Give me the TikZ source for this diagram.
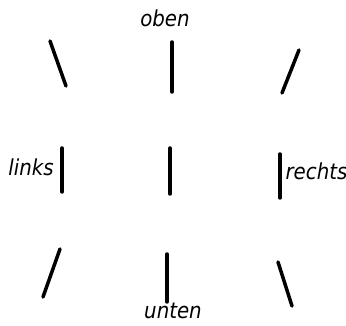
\documentclass[tikz,border=0pt]{standalone}
\usepackage{fontspec}
\newfontfamily\labelfont{DejaVu Sans Condensed}
\begin{document}
\begin{tikzpicture}[x=1pt,y=-1pt,line width=3.5pt,line cap=round]
  \tikzstyle{stroke}=[draw=black]
  \tikzstyle{dirlabel}=[font=\labelfont\itshape\fontsize{22}{22}\selectfont, inner sep=0pt, anchor=base]
  \useasboundingbox (0,0) rectangle (346,326);

  % strokes, row by row
  \draw[stroke] (50,41) -- (66,86);
  \draw[stroke] (172,42) -- (172,92);
  \draw[stroke] (299,50) -- (282,93);

  \draw[stroke] (62,148) -- (62,192);
  \draw[stroke] (170,148) -- (170,194);
  \draw[stroke] (280,154) -- (280,198);

  \draw[stroke] (60,249) -- (43,297);
  \draw[stroke] (167,254) -- (167,302);
  \draw[stroke] (278,262) -- (292,306);

  % labels
  \node[dirlabel] (oben) at (165,27) {oben};
  \node[dirlabel] (links) at (31,176) {links};
  \node[dirlabel] (rechts) at (316.5,180) {rechts};
  \node[dirlabel] (unten) at (173,319) {unten};
\end{tikzpicture}
\end{document}
